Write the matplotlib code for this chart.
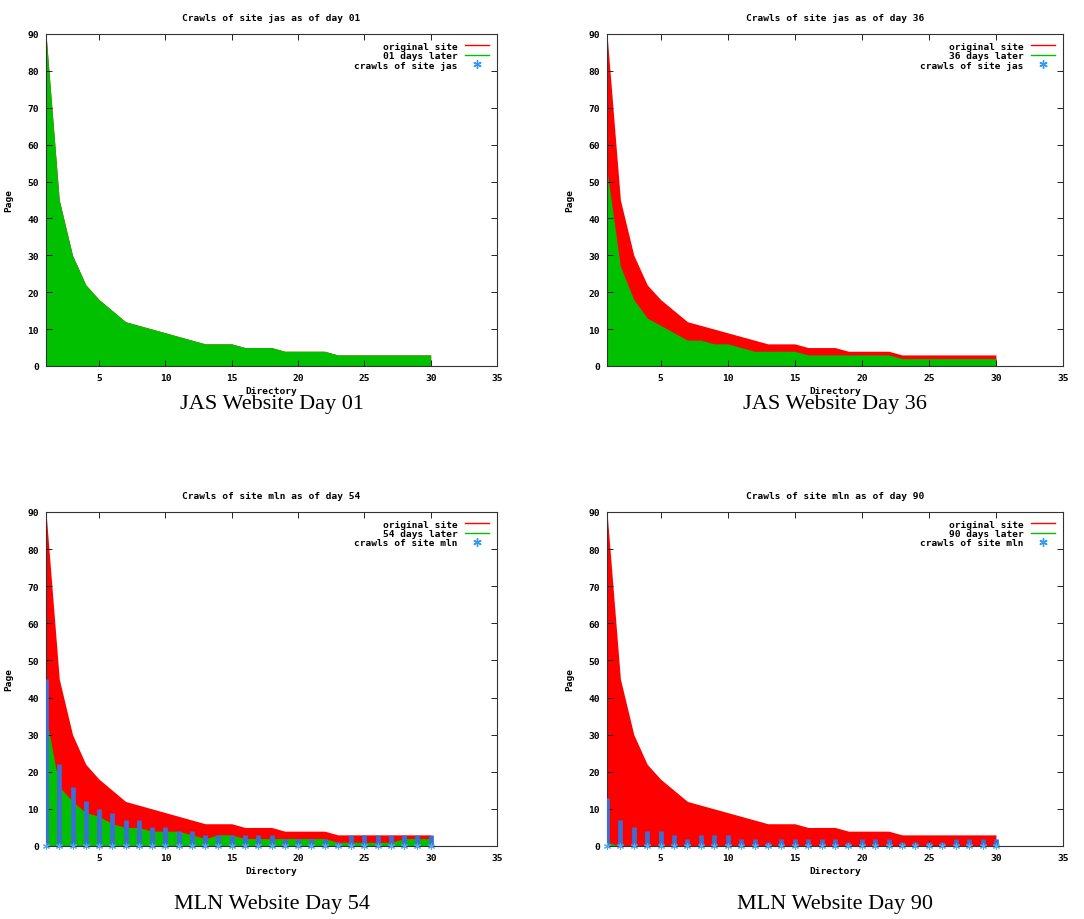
import numpy as np
import matplotlib
matplotlib.use('Agg')
import matplotlib.pyplot as plt
from matplotlib.lines import Line2D

# directory index 1..30
directory = list(range(1, 31))

# pages per directory on the original site (same for jas and mln)
original = [90, 45, 30, 22, 18, 15, 12, 11, 10, 9, 8, 7, 6, 6, 6,
            5, 5, 5, 4, 4, 4, 4, 3, 3, 3, 3, 3, 3, 3, 3]

# pages still there N days later
jas_day01 = original
jas_day36 = [53, 27, 18, 13, 11, 9, 7, 7, 6, 6, 5, 4, 4, 4, 4,
             3, 3, 3, 3, 3, 3, 3, 2, 2, 2, 2, 2, 2, 2, 2]
mln_day54 = [35, 16, 12, 9, 8, 6, 5, 5, 4, 4, 4, 3, 2, 3, 3,
             2, 2, 2, 2, 2, 2, 2, 1, 1, 1, 1, 1, 2, 2, 2]
mln_day90 = [1, 0, 0, 0, 0, 0, 0, 0, 0, 0, 0, 0, 0, 0, 0,
             0, 0, 0, 0, 0, 0, 0, 0, 0, 0, 0, 0, 0, 0, 0]

# crawled pages per directory (impulses)
mln_crawl54 = [45, 22, 16, 12, 10, 9, 7, 7, 5, 5, 4, 4, 3, 3, 3,
               3, 3, 3, 2, 2, 2, 2, 1, 3, 3, 3, 3, 3, 3, 3]
mln_crawl90 = [13, 7, 5, 4, 4, 3, 2, 3, 3, 3, 2, 2, 1, 2, 2,
               2, 2, 2, 1, 2, 2, 2, 1, 1, 1, 1, 2, 2, 2, 2]

panels = [
    ('jas', '01', jas_day01, None, 'JAS Website Day 01'),
    ('jas', '36', jas_day36, None, 'JAS Website Day 36'),
    ('mln', '54', mln_day54, mln_crawl54, 'MLN Website Day 54'),
    ('mln', '90', mln_day90, mln_crawl90, 'MLN Website Day 90'),
]

RED = '#ff0000'
GREEN = '#00c000'
BLUE = '#3a6fd8'
mono = {'family': 'DejaVu Sans Mono', 'weight': 'bold'}
FS = 6.8

fig = plt.figure(figsize=(10.84, 9.2), dpi=100)
W, H = 1084, 920
boxes = [(46, 35, 497, 367), (607, 35, 1063, 367),
         (46, 513, 497, 847), (607, 513, 1063, 847)]
captions_y = [405, 905]

for i, ((site, day, later, crawl, caption), box) in enumerate(zip(panels, boxes)):
    x0, y0, x1, y1 = box
    ax = fig.add_axes([x0 / W, 1 - y1 / H, (x1 - x0) / W, (y1 - y0) / H])
    x = np.array(directory)
    ax.fill_between(x, original, 0, color=RED, lw=0)
    ax.fill_between(x, later, 0, color=GREEN, lw=0)
    if crawl is not None:
        ax.vlines(x, 0, crawl, color=BLUE, lw=3.4, zorder=3)
        ax.plot(x, np.zeros_like(x), ls='none', marker=(6, 2, 0), ms=5,
                color='#55aaee', mew=0.8, zorder=4, clip_on=False)
    ax.set_xlim(1, 35)
    ax.set_ylim(0, 90)
    ax.set_xticks(range(5, 36, 5))
    ax.set_yticks(range(0, 91, 10))
    ax.tick_params(direction='in', top=True, right=True, length=4, width=0.6,
                   labelsize=FS, pad=5)
    for lab in ax.get_xticklabels() + ax.get_yticklabels():
        lab.set_fontfamily('DejaVu Sans Mono')
        lab.set_fontweight('bold')
    for sp in ax.spines.values():
        sp.set_linewidth(0.8)
        sp.set_color('#333333')
    ax.set_title(f'Crawls of site {site} as of day {day}', fontsize=FS,
                 pad=10, **mono)
    ax.set_xlabel('Directory', fontsize=FS, labelpad=3, **mono)
    ax.set_ylabel('Page', fontsize=FS, labelpad=10, **mono)

    handles = [
        Line2D([], [], color=RED, lw=1),
        Line2D([], [], color=GREEN, lw=1),
        Line2D([], [], ls='none', marker=(6, 2, 0), ms=6, color='#3399ee'),
    ]
    labels = ['original site', f'{day} days later', f'crawls of site {site}']
    leg = ax.legend(handles, labels, loc='upper right', frameon=False,
                    markerfirst=False, prop={'family': 'DejaVu Sans Mono',
                                             'weight': 'bold', 'size': FS},
                    handlelength=2.6, handletextpad=0.8, labelspacing=0.05,
                    borderaxespad=0.4)
    for t in leg.get_texts():
        t.set_ha('right')
    leg._legend_box.align = 'right'

    cx = (x0 + x1) / 2 / W
    fig.text(cx, 1 - captions_y[i // 2] / H, caption, ha='center', va='center',
             fontsize=16, family='Liberation Serif')

fig.savefig('out.png', dpi=100)
